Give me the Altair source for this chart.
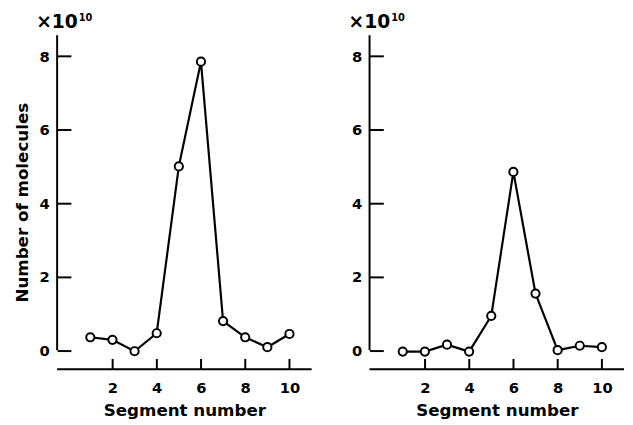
import altair as alt
import pandas as pd

segments = [1, 2, 3, 4, 5, 6, 7, 8, 9, 10]
left_values = [0.35, 0.28, -0.03, 0.46, 5.0, 7.85, 0.79, 0.35, 0.08, 0.44]
right_values = [-0.04, -0.04, 0.15, -0.04, 0.93, 4.85, 1.54, 0.0, 0.12, 0.08]
x_ticks = [2, 4, 6, 8, 10]
y_ticks = [0, 2, 4, 6, 8]
x_title = "Segment number"
y_title = "Number of molecules"
mult_text = "×10"
exp_text = "10"

XMIN, XMAX = -0.5, 11.0
YMIN, YMAX = -0.52, 8.57
FONT = "DejaVu Sans"
W, H = 259, 340


def panel(values, show_ytitle):
    df = pd.DataFrame({"seg": segments, "val": values})
    one = pd.DataFrame({"a": [0]})
    xs = alt.Scale(domain=[XMIN, XMAX], nice=False, zero=False)
    ys = alt.Scale(domain=[YMIN, YMAX], nice=False, zero=False)
    yaxis_kw = dict(values=y_ticks, offset=-14, tickSize=14, tickWidth=2, domain=False,
                    grid=False, labelPadding=8, labelFont=FONT, labelFontSize=15,
                    labelFontWeight="bold", labelColor="black", tickColor="black",
                    titleFont=FONT, titleFontSize=17, titleFontWeight="bold",
                    titleColor="black", titlePadding=8)
    yaxis_kw["title"] = y_title if show_ytitle else ""
    x = alt.X("seg:Q", scale=xs,
              axis=alt.Axis(values=x_ticks, offset=-11, tickSize=11, tickWidth=2,
                            domain=False, grid=False, labelPadding=12, labelFont=FONT,
                            labelFontSize=15, labelFontWeight="bold", labelColor="black",
                            tickColor="black", title=x_title, titleFont=FONT,
                            titleFontSize=17, titleFontWeight="bold", titleColor="black",
                            titlePadding=7))
    y = alt.Y("val:Q", scale=ys, axis=alt.Axis(**yaxis_kw))
    base = alt.Chart(df).encode(x=x, y=y)
    line = base.mark_line(color="black", strokeWidth=2.2)
    pts = base.mark_point(shape="circle", filled=True, fill="white", stroke="black",
                          strokeWidth=2, size=70, opacity=1)
    ydom = alt.Chart(one).mark_rule(color="black", strokeWidth=2).encode(
        x=alt.datum(XMIN), y=alt.datum(0), y2=alt.datum(YMAX))
    xdom = alt.Chart(one).mark_rule(color="black", strokeWidth=2).encode(
        x=alt.datum(XMIN), x2=alt.datum(XMAX), y=alt.datum(YMIN))
    t1 = alt.Chart(one).mark_text(text=mult_text, align="right", baseline="alphabetic",
                                  dx=21, dy=-7, font=FONT, fontSize=19, fontWeight="bold",
                                  color="black").encode(x=alt.datum(XMIN), y=alt.datum(YMAX))
    t2 = alt.Chart(one).mark_text(text=exp_text, align="left", baseline="alphabetic",
                                  dx=22, dy=-14, font=FONT, fontSize=10, fontWeight="bold",
                                  color="black").encode(x=alt.datum(XMIN), y=alt.datum(YMAX))
    return alt.layer(line, pts, ydom, xdom, t1, t2).properties(width=W, height=H)


chart = alt.hconcat(panel(left_values, True), panel(right_values, False),
                    spacing=59, bounds="flush").properties(
    padding={"left": 5, "top": 2, "right": 0, "bottom": 0},
    background="white"
).configure_view(stroke=None)

chart.save("out.html", embed_options={"renderer": "svg", "actions": False})
